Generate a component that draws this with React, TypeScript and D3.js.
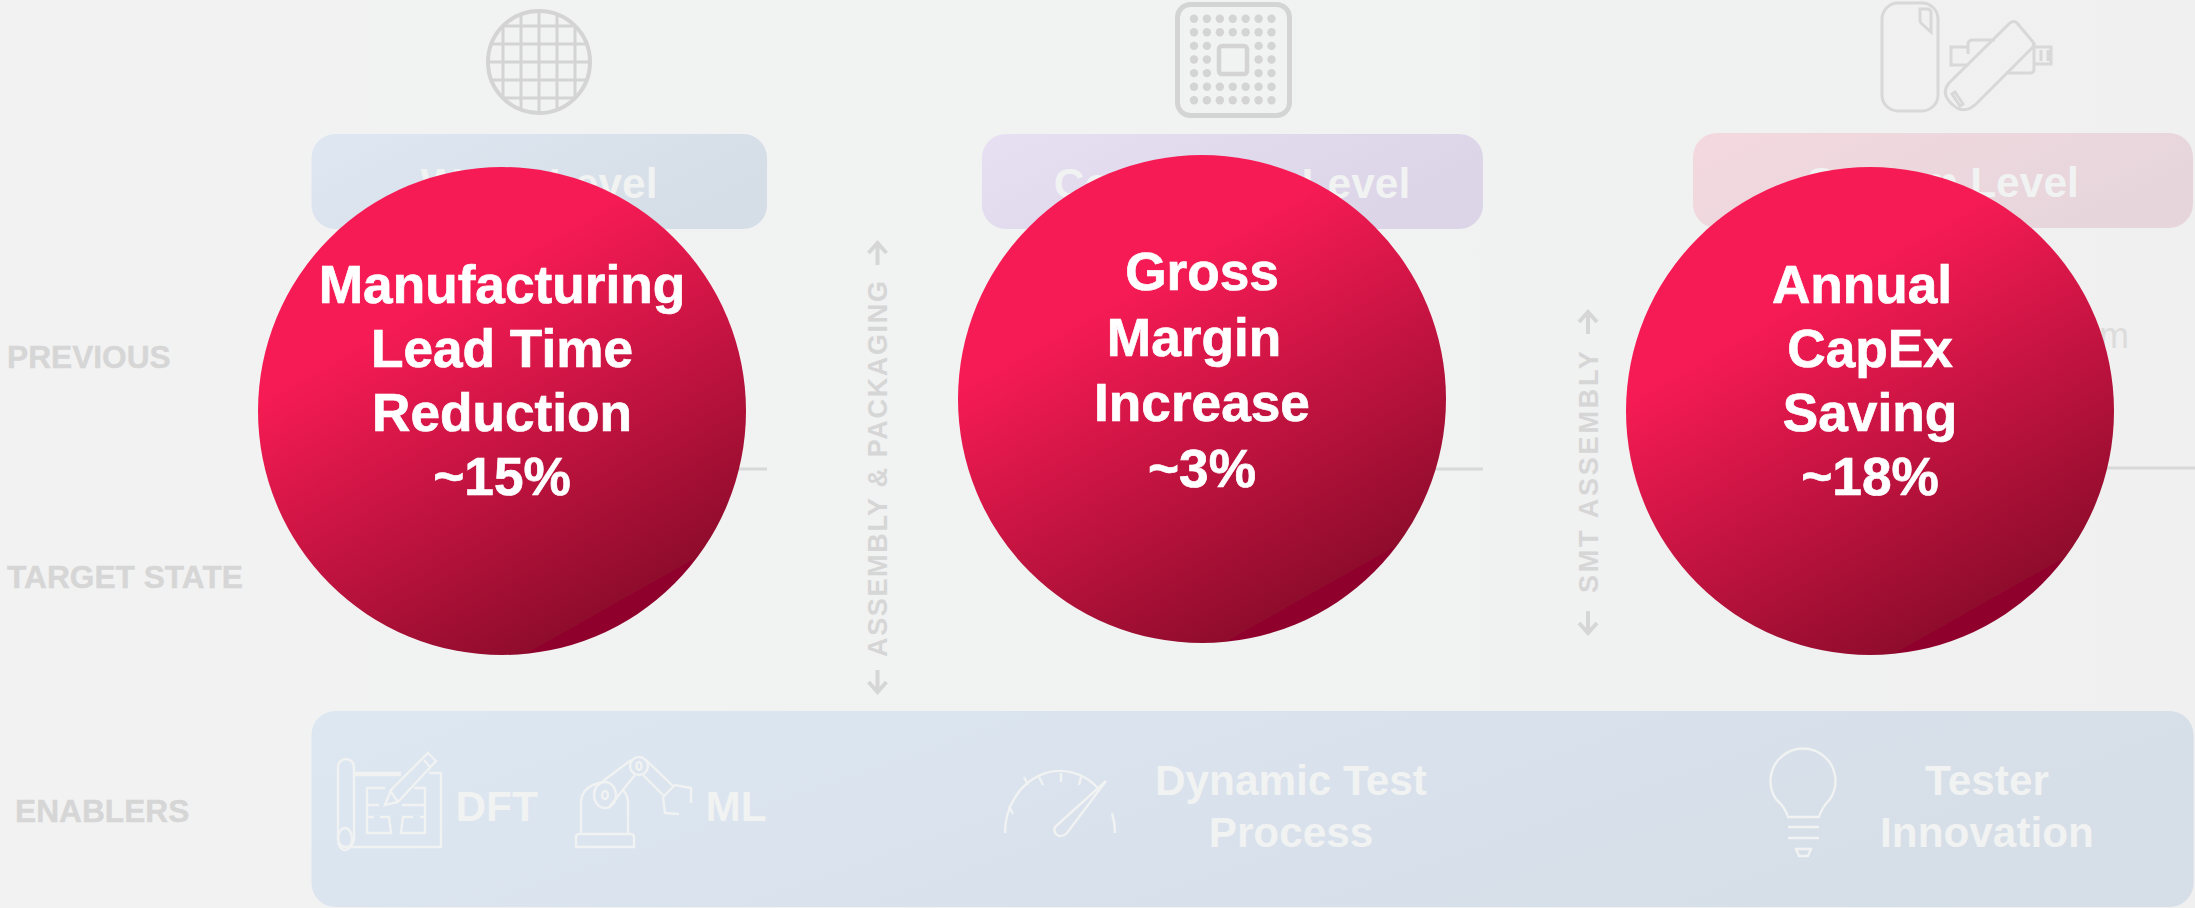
import React from "react";
import * as d3 from "d3";

const WIDTH = 2195;
const HEIGHT = 908;
const FONT = "'Liberation Sans', Arial, sans-serif";

// ---- content ----
const kpiLabels = [
  ["Manufacturing", "Lead Time", "Reduction"],
  ["Gross", "Margin", "Increase"],
  ["Annual", "CapEx", "Saving"],
];
const kpiValues = ["~15%", "~3%", "~18%"];
const levelNames = ["Wafer Level", "Component Level", "System Level"];
const rowLabels = ["PREVIOUS", "TARGET STATE", "ENABLERS"];
const stageLabels = ["ASSEMBLY & PACKAGING", "SMT ASSEMBLY"];
const enablerSingle = ["DFT", "ML"];
const enablerDouble = [["Dynamic Test", "Process"], ["Tester", "Innovation"]];

// ---- layout ----
const circleX = [502, 1202, 1870];
const circleY = [411, 399, 411];
const circleR = 244;
const firstBaseline = [303, 290, 303];
const lineGap = [64, 65.5, 64];
const lineNudge = [[0, 0, 0, 0], [0, -8, 0, 0], [-8, 0, 0, 0]];
const boxes = [
  { x: 311.5, w: 455.5, y: 134, h: 95, a: "#dfe7f2", b: "#d5dde7", tx: 539 },
  { x: 982, w: 501, y: 134, h: 95, a: "#e7dff2", b: "#dbd5e7", tx: 1232 },
  { x: 1693, w: 500, y: 133, h: 95, a: "#f4d8df", b: "#e6d6dc", tx: 1943 },
];
const dividerY = [469, 469, 468];
const dividerEnd = [767, 1483, 2195];
const GREY = "#d6d6d6";
const PALE = "#f1f2f2";

const gridLines = d3.range(-2, 3);
const dotX = d3.scalePoint<number>().domain(d3.range(7)).range([1194, 1271.5]);
const dotY = d3.scalePoint<number>().domain(d3.range(7)).range([18.7, 100.3]);
const gaugeTicks = [
  [-51, -27, -47, -19],
  [-36, -56, -32, -48],
  [-21, -56, -17, -48],
  [1, -60, 1, -51],
  [21, -56, 19, -48],
];

function UpDownArrow({ x, y, up }: { x: number; y: number; up: boolean }) {
  const s = up ? 1 : -1;
  const p = d3.path();
  p.moveTo(x, y + s * 22);
  p.lineTo(x, y);
  p.moveTo(x - 9, y + s * 10);
  p.lineTo(x, y);
  p.lineTo(x + 9, y + s * 10);
  return <path d={p.toString()} fill="none" stroke={GREY} strokeWidth={4} />;
}

function TopIcons() {
  return (
    <g fill="none" stroke="#d4d4d4">
      <clipPath id="wafer"><circle cx={539} cy={62} r={51} /></clipPath>
      <circle cx={539} cy={62} r={51} strokeWidth={4} />
      <g clipPath="url(#wafer)" strokeWidth={3}>
        {gridLines.map((i) => (
          <g key={i}>
            <line x1={539 + i * 18} x2={539 + i * 18} y1={0} y2={125} />
            <line x1={480} x2={600} y1={62 + i * 18} y2={62 + i * 18} />
          </g>
        ))}
      </g>
      <rect x={1177.5} y={4.5} width={112} height={111} rx={13} strokeWidth={5} />
      <rect x={1219} y={46} width={28} height={28} rx={3} strokeWidth={4.5} />
      <g fill="#d4d4d4" stroke="none">
        {d3.range(7).flatMap((c) =>
          d3.range(7)
            .filter((r) => !(c >= 2 && c <= 4 && r >= 2 && r <= 4))
            .map((r) => <ellipse key={`${c}-${r}`} cx={dotX(c)} cy={dotY(r)} rx={4.2} ry={4.2} />)
        )}
      </g>
      <g strokeWidth={3} stroke="#d8d8d8">
        <rect x={1882} y={3} width={56} height={108} rx={16} />
        <path d="M1920 9 h7 q4 0 4 4 v19 l-10 -9 q-1 -1 -1 -3 z" />
        <path d="M1968 54 v-10 q0 -4 5 -4 h22 M2006 73 h24 q4 0 4 -4 v-27" />
        <path d="M1968 65 h-17 v-18 h17 M2034 47 h17 v17 h-17 M2041 50 v11 M2048 50 v11" />
        <path d="M2010 23 q4 -3 7 0 l16 19 q2 3 -1 6 l-56 56 q-12 11 -23 1 q-13 -11 -4 -22 z" />
        <path d="M1952 94 l3 -2 l8 12 l-3 2 z" />
      </g>
    </g>
  );
}

function BottomIcons() {
  return (
    <g fill="none" stroke={PALE} strokeWidth={2.4}>
      {/* blueprint */}
      <rect x={338} y={759} width={16} height={88} rx={8} />
      <ellipse cx={345} cy={839} rx={7} ry={11} />
      <path d="M354 773 H401 M429 773 H441 V847 H346 M354 775 H401" />
      <path d="M367 806 V788 H385 M367 805 H379 M367 817 H374 M380 817 H389 L391 833 H367 V806 M414 788 H425 V833 H401 L403 817 H413 M420 817 H425 M402 805 H425" />
      <path d="M428 753 L436 761 L398 802 L385 805 L391 790 Z M424 760 L431 768 M391 792 L398 802" />
      {/* robot */}
      <path d="M576 847 V837 Q576 834 580 834 H630 Q634 834 634 837 V847 Z M581 834 V803 Q581 786 603 782 M623 790 Q628 795 628 803 V834" />
      <ellipse cx={605} cy={795} rx={11} ry={13} />
      <ellipse cx={605} cy={795} rx={3} ry={4} />
      <path d="M603 781 L631 760 M610 806 L635 775" />
      <ellipse cx={639} cy={766} rx={9} ry={9} />
      <ellipse cx={639} cy={766} rx={2.5} ry={4} />
      <path d="M646 760 L674 787 M643 775 L663 795 M663 797 L675 785 L691 788 L691 803 M663 797 L665 813 L679 814" />
      {/* gauge */}
      <g transform="translate(1060,833)">
        <path d="M-55 0 A55 62 0 0 1 40 -42.6" />
        <path d="M52 -20 A55 62 0 0 1 55 0" />
        {gaugeTicks.map(([a, b, c, d]) => (
          <line key={a} x1={a} y1={b} x2={c} y2={d} />
        ))}
        <path d="M-5 -6 L46 -52 L7 0 Q2 5 -3 2 Q-7 -2 -5 -6 Z" />
      </g>
      {/* bulb */}
      <path d="M1788 817 Q1785 807 1776.6 800 A32.5 32.5 0 1 1 1829.4 800 Q1822 807 1819 817 Z" />
      <path d="M1788 827 H1819 M1788 838 H1819 M1796 849 H1811 L1808 856 H1799 Z" />
    </g>
  );
}

export default function App() {
  return (
    <svg
      width={WIDTH}
      height={HEIGHT}
      viewBox={`0 0 ${WIDTH} ${HEIGHT}`}
      style={{ position: "absolute", left: 0, top: 0, display: "block", fontFamily: FONT }}
    >
      <defs>
        <linearGradient id="bg" x1="0" y1="0" x2="1" y2="0">
          <stop offset="0" stopColor="#f2f2f2" />
          <stop offset="0.55" stopColor="#f1f2f2" />
          <stop offset="1" stopColor="#f0f0f0" />
        </linearGradient>
        {boxes.map((b, i) => (
          <linearGradient key={i} id={`box${i}`} x1="0" y1="0" x2="1" y2="0.4">
            <stop offset="0" stopColor={b.a} />
            <stop offset="1" stopColor={b.b} />
          </linearGradient>
        ))}
        <linearGradient id="enabler" x1="0" y1="0" x2="1" y2="0.3">
          <stop offset="0" stopColor="#dde7f2" />
          <stop offset="1" stopColor="#d6dee8" />
        </linearGradient>
        {circleX.map((cx, i) => {
          const dx = 0.49;
          const dy = 0.87;
          const cy = circleY[i];
          return (
            <linearGradient
              key={i}
              id={`kpi${i}`}
              gradientUnits="userSpaceOnUse"
              x1={cx - 130 * dx}
              y1={cy - 130 * dy}
              x2={cx + 244 * dx}
              y2={cy + 244 * dy}
            >
              <stop offset="0" stopColor="#f61b54" />
              <stop offset="0.945" stopColor="#8f0c2c" />
              <stop offset="0.945" stopColor="#90002c" />
              <stop offset="1" stopColor="#90002c" />
            </linearGradient>
          );
        })}
      </defs>

      <rect width={WIDTH} height={HEIGHT} fill="url(#bg)" />
      <TopIcons />

      {boxes.map((b, i) => (
        <g key={i}>
          <rect x={b.x} y={b.y} width={b.w} height={b.h} rx={24} fill={`url(#box${i})`} />
          <text x={b.tx} y={b.y + 64} textAnchor="middle" fontSize={42.5} fontWeight={700} fill={PALE}>
            {levelNames[i]}
          </text>
          <line x1={b.x} x2={dividerEnd[i]} y1={dividerY[i]} y2={dividerY[i]} stroke="#d8d8d8" strokeWidth={3} />
        </g>
      ))}
      <text x={2129} y={348} textAnchor="end" fontSize={36} fill="#dcdcdc">m</text>

      <g fontWeight={700} fontSize={31.7} fill={GREY} stroke={GREY} strokeWidth={0.4}>
        <text x={7} y={368}>{rowLabels[0]}</text>
        <text x={7} y={588}>{rowLabels[1]}</text>
        <text x={15} y={822}>{rowLabels[2]}</text>
      </g>

      <g fontWeight={700} fontSize={27} fill={GREY}>
        <text transform="translate(887,657) rotate(-90)" letterSpacing={1.65}>{stageLabels[0]}</text>
        <text transform="translate(1598,593) rotate(-90)" letterSpacing={2.8}>{stageLabels[1]}</text>
      </g>
      <UpDownArrow x={877.5} y={243} up />
      <UpDownArrow x={877.5} y={692} up={false} />
      <UpDownArrow x={1588} y={312} up />
      <UpDownArrow x={1588} y={633} up={false} />

      <rect x={311.5} y={711} width={1882} height={196} rx={24} fill="url(#enabler)" />
      <BottomIcons />
      <g fontWeight={700} fontSize={42.3} fill={PALE}>
        <text x={455.5} y={821}>{enablerSingle[0]}</text>
        <text x={705.5} y={821}>{enablerSingle[1]}</text>
        {enablerDouble.map((lines, i) =>
          lines.map((t, j) => (
            <text key={t} x={[1291, 1987][i]} y={795 + j * 52} textAnchor="middle">{t}</text>
          ))
        )}
      </g>

      {circleX.map((cx, i) => (
        <g key={i}>
          <circle cx={cx} cy={circleY[i]} r={circleR} fill={`url(#kpi${i})`} />
          <g fill="#ffffff" stroke="#ffffff" strokeWidth={0.7} fontWeight={700} fontSize={53.2} textAnchor="middle">
            {[...kpiLabels[i], kpiValues[i]].map((t, j) => (
              <text key={t} x={cx + lineNudge[i][j]} y={firstBaseline[i] + j * lineGap[i]}>{t}</text>
            ))}
          </g>
        </g>
      ))}
    </svg>
  );
}
